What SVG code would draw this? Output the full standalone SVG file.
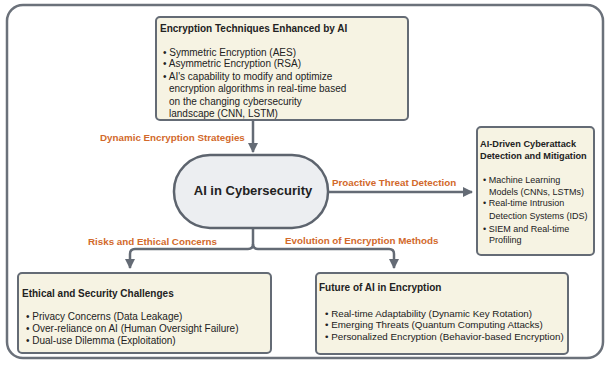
<svg xmlns="http://www.w3.org/2000/svg" width="608" height="367" viewBox="0 0 608 367">
<defs>
<marker id="ah" viewBox="0 0 10 10" refX="9" refY="5" markerWidth="4" markerHeight="4" orient="auto" markerUnits="strokeWidth">
<path d="M0,0 L10,5 L0,10 z" fill="#646b75"/>
</marker>
<style>
.frame{fill:#fff;stroke:#6b717a;stroke-width:2.5}
.box{fill:#f6f3e3;stroke:#646b75;stroke-width:2}
.pill{fill:#eceef1;stroke:#5d646e;stroke-width:2.5}
.conn{fill:none;stroke:#646b75;stroke-width:2.5;stroke-linejoin:round}
.t{font-family:"Liberation Sans",Arial,sans-serif;fill:#222}
.title{font-size:10px;font-weight:bold}
.body{font-size:10px}
.rt{font-size:9.2px;font-weight:bold}
.rb{font-size:9px}
.fb{font-size:9.8px}
.lbl{font-family:"Liberation Sans",Arial,sans-serif;font-size:9.8px;font-weight:bold;fill:#d2692b}
.main{font-size:13px;font-weight:bold}
</style>
</defs>
<rect class="frame" x="7" y="5" width="596" height="353" rx="16"/>
<g id="connectors">
<path class="conn" d="M253,120 V152" marker-end="url(#ah)"/>
<path class="conn" d="M328,192 H472" marker-end="url(#ah)"/>
<path class="conn" d="M253,228 V244 Q253,249 248,249 H135 Q130,249 130,254 V268" marker-end="url(#ah)"/>
<path class="conn" d="M253,244 Q253,249 258,249 H389 Q394,249 394,254 V268" marker-end="url(#ah)"/>
<text class="lbl" x="100" y="141">Dynamic Encryption Strategies</text>
<text class="lbl" x="332" y="186">Proactive Threat Detection</text>
<text class="lbl" x="88" y="245">Risks and Ethical Concerns</text>
<text class="lbl" x="285" y="244">Evolution of Encryption Methods</text>
</g>
<g id="top">
<rect class="box" x="156" y="17" width="252" height="103" rx="4"/>
<text class="t title" x="160" y="32">Encryption Techniques Enhanced by AI</text>
<text class="t body" x="163" y="56">• Symmetric Encryption (AES)</text>
<text class="t body" x="163" y="67">• Asymmetric Encryption (RSA)</text>
<text class="t body" x="163" y="80">• AI's capability to modify and optimize</text>
<text class="t body" x="169" y="92">encryption algorithms in real-time based</text>
<text class="t body" x="169" y="105">on the changing cybersecurity</text>
<text class="t body" x="169" y="117">landscape (CNN, LSTM)</text>
</g>
<g id="center">
<rect class="pill" x="174" y="155" width="154" height="73" rx="36"/>
<text class="t main" x="253" y="195" text-anchor="middle">AI in Cybersecurity</text>
</g>
<g id="right">
<rect class="box" x="477" y="127" width="117" height="128" rx="4"/>
<text class="t rt" x="480" y="147">AI-Driven Cyberattack</text>
<text class="t rt" x="480" y="159">Detection and Mitigation</text>
<text class="t rb" x="483" y="183">• Machine Learning</text>
<text class="t rb" x="489" y="195">Models (CNNs, LSTMs)</text>
<text class="t rb" x="483" y="206">• Real-time Intrusion</text>
<text class="t rb" x="489" y="219">Detection Systems (IDS)</text>
<text class="t rb" x="483" y="232">• SIEM and Real-time</text>
<text class="t rb" x="489" y="243">Profiling</text>
</g>
<g id="ethical">
<rect class="box" x="18" y="273" width="253" height="80" rx="4"/>
<text class="t title" x="22" y="297">Ethical and Security Challenges</text>
<text class="t body" x="26" y="320">• Privacy Concerns (Data Leakage)</text>
<text class="t body" x="26" y="332">• Over-reliance on AI (Human Oversight Failure)</text>
<text class="t body" x="26" y="344">• Dual-use Dilemma (Exploitation)</text>
</g>
<g id="future">
<rect class="box" x="316" y="273" width="252" height="81" rx="4"/>
<text class="t title" x="319" y="291">Future of AI in Encryption</text>
<text class="t fb" x="325" y="317">• Real-time Adaptability (Dynamic Key Rotation)</text>
<text class="t fb" x="325" y="328">• Emerging Threats (Quantum Computing Attacks)</text>
<text class="t fb" x="325" y="340">• Personalized Encryption (Behavior-based Encryption)</text>
</g>
</svg>
